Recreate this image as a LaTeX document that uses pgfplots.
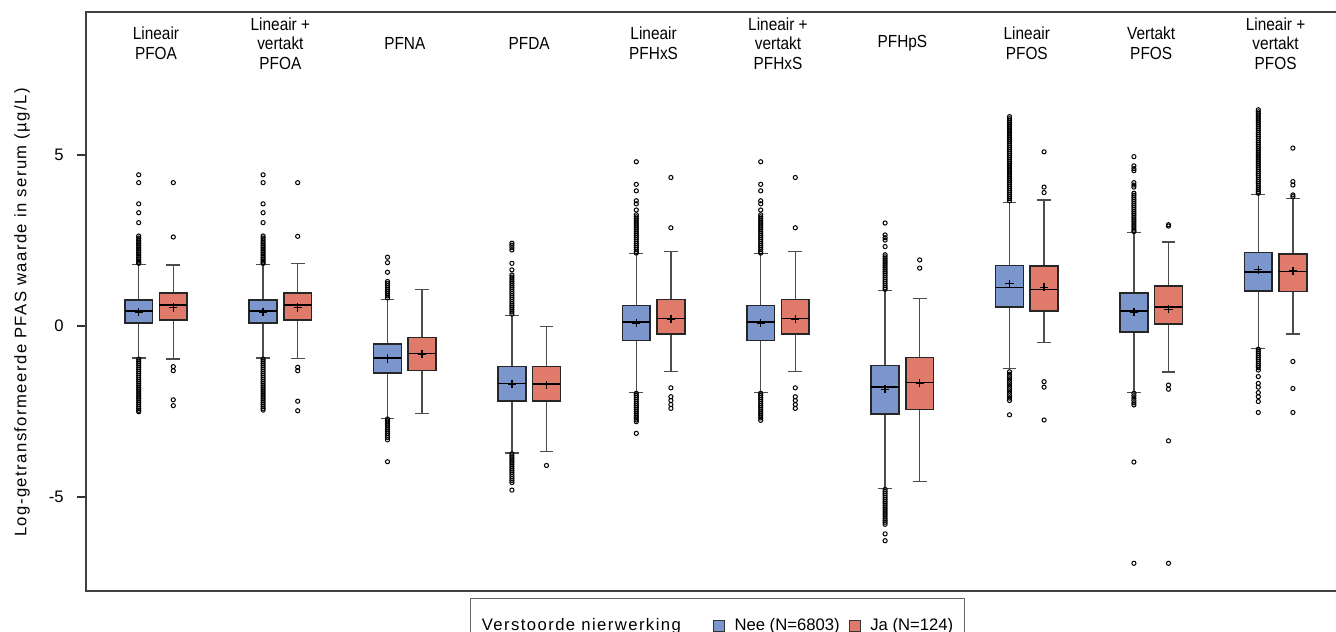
\documentclass[border=0pt]{standalone}
\usepackage{fontspec}
\setmainfont{Liberation Sans}
\newfontfamily\grpfont[FakeStretch=0.88]{Liberation Sans}
\newfontfamily\spacedfont[LetterSpace=8.6]{Liberation Sans}
\usepackage{pgfplots}
\pgfplotsset{compat=1.18}
\usepgfplotslibrary{statistics}

\definecolor{nee}{HTML}{7B96CC}
\definecolor{ja}{HTML}{E07B6C}

\tikzset{grp/.style={align=center, inner sep=0pt, font=\grpfont\fontsize{10.5}{11.7}\selectfont}}

% one prepared box: position, colour, lower whisker, Q1, median, Q3, upper whisker, outliers
\newcommand{\pfasbox}[8]{%
  \addplot[forget plot,
    boxplot prepared={draw direction=y, draw position=#1, lower whisker=#3, lower quartile=#4,
      median=#5, upper quartile=#6, upper whisker=#7},
    fill=#2, draw=black!85, line width=0.9pt,
    mark=o, mark size=1.25pt,
    mark options={solid, draw=black, fill=none, line width=0.6pt}]
    coordinates {#8};}

\begin{document}
\begin{tikzpicture}
\begin{axis}[
  at={(0pt,0pt)}, anchor=south west,
  scale only axis, width=752.57pt, height=347.4pt,
  xmin=0.4373, xmax=10.52, ymin=-7.75, ymax=9.18,
  xtick=\empty, ytick={-5,0,5}, ytick pos=left, tick align=outside,
  major tick length=5.4pt,
  every tick/.style={black!80, line width=0.8pt},
  axis line style={black!75, line width=0.9pt},
  tick label style={font=\fontsize{10}{12}\selectfont},
  yticklabel style={xshift=-4.5pt},
  /pgf/number format/assume math mode=true,
  ylabel={\spacedfont Log-getransformeerde PFAS waarde in serum (µg/L)},
  ylabel style={at={(axis description cs:-0.0510,0.481)}, anchor=center,
    font=\fontsize{10}{12}\selectfont},
  boxplot/draw direction=y,
  boxplot/box extend=0.223, boxplot/whisker extend=0.11,
  boxplot/every whisker/.style={draw=black!70, line width=0.85pt, fill=none},
  boxplot/every median/.style={draw=black, line width=0.9pt},
  legend columns=3,
  legend cell align=left,
  legend style={at={(axis description cs:0.3061,0)}, anchor=north west,
    yshift=-4.2pt, draw=black!60, line width=0.6pt,
    inner xsep=4.8pt, inner ysep=10.2pt,
    font=\fontsize{10}{12}\selectfont,
    /tikz/every odd column/.style={column sep=0pt}},
]

% Lineair PFOA
\pfasbox{0.861}{nee}{-0.94}{0.09}{0.44}{0.76}{1.79}{(0,4.42) (0,4.19) (0,3.57) (0,3.31) (0,3.02) (0,2.63) (0,2.57) (0,2.51) (0,2.45) (0,2.40) (0,2.35) (0,2.30) (0,2.25) (0,2.20) (0,2.15) (0,2.10) (0,2.05) (0,2.00) (0,1.95) (0,1.90) (0,1.86) (0,1.83)
 (0,-0.97) (0,-1.03) (0,-1.09) (0,-1.15) (0,-1.21) (0,-1.27) (0,-1.33) (0,-1.39) (0,-1.45) (0,-1.51) (0,-1.57) (0,-1.63) (0,-1.69) (0,-1.75) (0,-1.81) (0,-1.87) (0,-1.93) (0,-1.99) (0,-2.05) (0,-2.11) (0,-2.17) (0,-2.23) (0,-2.29) (0,-2.35) (0,-2.41) (0,-2.47) (0,-2.51)}
\pfasbox{1.139}{ja}{-0.97}{0.18}{0.61}{0.96}{1.78}{(0,4.19) (0,2.60) (0,-1.19) (0,-1.31) (0,-2.16) (0,-2.33)}

% Lineair + vertakt PFOA
\pfasbox{1.861}{nee}{-0.94}{0.09}{0.44}{0.76}{1.80}{(0,4.42) (0,4.19) (0,3.57) (0,3.31) (0,3.02) (0,2.63) (0,2.57) (0,2.51) (0,2.45) (0,2.40) (0,2.35) (0,2.30) (0,2.25) (0,2.20) (0,2.15) (0,2.10) (0,2.05) (0,2.00) (0,1.95) (0,1.90) (0,1.86) (0,1.83)
 (0,-0.97) (0,-1.03) (0,-1.09) (0,-1.15) (0,-1.21) (0,-1.27) (0,-1.33) (0,-1.39) (0,-1.45) (0,-1.51) (0,-1.57) (0,-1.63) (0,-1.69) (0,-1.75) (0,-1.81) (0,-1.87) (0,-1.93) (0,-1.99) (0,-2.05) (0,-2.11) (0,-2.17) (0,-2.23) (0,-2.29) (0,-2.35) (0,-2.41) (0,-2.46)}
\pfasbox{2.139}{ja}{-0.96}{0.18}{0.61}{0.96}{1.82}{(0,4.19) (0,2.62) (0,-1.21) (0,-1.31) (0,-2.20) (0,-2.48)}

% PFNA
\pfasbox{2.861}{nee}{-2.70}{-1.38}{-0.94}{-0.53}{0.78}{(0,2.01) (0,1.85) (0,1.57) (0,1.30) (0,1.24) (0,1.18) (0,1.12) (0,1.06) (0,1.00) (0,0.94) (0,0.88) (0,0.82)
 (0,-2.72) (0,-2.78) (0,-2.84) (0,-2.90) (0,-2.96) (0,-3.02) (0,-3.08) (0,-3.14) (0,-3.20) (0,-3.26) (0,-3.33) (0,-3.97)}
\pfasbox{3.139}{ja}{-2.56}{-1.31}{-0.80}{-0.34}{1.07}{}

% PFDA
\pfasbox{3.861}{nee}{-3.72}{-2.20}{-1.68}{-1.19}{0.31}{(0,2.42) (0,2.36) (0,2.29) (0,2.22) (0,1.83) (0,1.64) (0,1.49) (0,1.43) (0,1.37) (0,1.31) (0,1.25) (0,1.19) (0,1.13) (0,1.07) (0,1.01) (0,0.95) (0,0.89) (0,0.83) (0,0.77) (0,0.71) (0,0.65) (0,0.59) (0,0.53) (0,0.47) (0,0.41) (0,0.35)
 (0,-3.74) (0,-3.80) (0,-3.86) (0,-3.92) (0,-3.98) (0,-4.04) (0,-4.10) (0,-4.16) (0,-4.22) (0,-4.28) (0,-4.34) (0,-4.40) (0,-4.46) (0,-4.52) (0,-4.58) (0,-4.80)}
\pfasbox{4.139}{ja}{-3.67}{-2.20}{-1.70}{-1.19}{-0.02}{(0,-4.08)}

% Lineair PFHxS
\pfasbox{4.861}{nee}{-1.95}{-0.43}{0.11}{0.60}{2.11}{(0,4.80) (0,4.14) (0,3.95) (0,3.66) (0,3.57) (0,3.39) (0,3.25) (0,3.19) (0,3.13) (0,3.07) (0,3.01) (0,2.95) (0,2.89) (0,2.83) (0,2.77) (0,2.71) (0,2.65) (0,2.59) (0,2.53) (0,2.47) (0,2.41) (0,2.35) (0,2.29) (0,2.23) (0,2.17) (0,2.13)
 (0,-1.97) (0,-2.03) (0,-2.09) (0,-2.15) (0,-2.21) (0,-2.27) (0,-2.33) (0,-2.39) (0,-2.45) (0,-2.51) (0,-2.57) (0,-2.63) (0,-2.69) (0,-2.75) (0,-2.80) (0,-3.14)}
\pfasbox{5.139}{ja}{-1.34}{-0.24}{0.22}{0.77}{2.18}{(0,4.34) (0,2.87) (0,-1.81) (0,-2.07) (0,-2.18) (0,-2.30) (0,-2.41)}

% Lineair + vertakt PFHxS
\pfasbox{5.861}{nee}{-1.95}{-0.43}{0.11}{0.60}{2.11}{(0,4.80) (0,4.14) (0,3.95) (0,3.66) (0,3.57) (0,3.39) (0,3.25) (0,3.19) (0,3.13) (0,3.07) (0,3.01) (0,2.95) (0,2.89) (0,2.83) (0,2.77) (0,2.71) (0,2.65) (0,2.59) (0,2.53) (0,2.47) (0,2.41) (0,2.35) (0,2.29) (0,2.23) (0,2.17) (0,2.13)
 (0,-1.97) (0,-2.03) (0,-2.09) (0,-2.15) (0,-2.21) (0,-2.27) (0,-2.33) (0,-2.39) (0,-2.45) (0,-2.51) (0,-2.57) (0,-2.63) (0,-2.69) (0,-2.76)}
\pfasbox{6.139}{ja}{-1.34}{-0.24}{0.22}{0.77}{2.18}{(0,4.34) (0,2.87) (0,-1.81) (0,-2.07) (0,-2.18) (0,-2.30) (0,-2.41)}

% PFHpS
\pfasbox{6.861}{nee}{-4.76}{-2.58}{-1.79}{-1.15}{1.03}{(0,3.01) (0,2.66) (0,2.58) (0,2.51) (0,2.32) (0,2.08) (0,2.02) (0,1.96) (0,1.90) (0,1.84) (0,1.78) (0,1.72) (0,1.66) (0,1.60) (0,1.54) (0,1.48) (0,1.42) (0,1.36) (0,1.30) (0,1.24) (0,1.18) (0,1.12) (0,1.07)
 (0,-4.78) (0,-4.84) (0,-4.90) (0,-4.96) (0,-5.02) (0,-5.08) (0,-5.14) (0,-5.20) (0,-5.26) (0,-5.32) (0,-5.38) (0,-5.44) (0,-5.50) (0,-5.56) (0,-5.62) (0,-5.68) (0,-5.74) (0,-5.80) (0,-6.08) (0,-6.28)}
\pfasbox{7.139}{ja}{-4.55}{-2.44}{-1.65}{-0.92}{0.81}{(0,1.93) (0,1.69)}

% Lineair PFOS
\pfasbox{7.861}{nee}{-1.25}{0.56}{1.12}{1.77}{3.61}{(0,6.12) (0,6.06) (0,6.00) (0,5.94) (0,5.88) (0,5.82) (0,5.76) (0,5.70) (0,5.64) (0,5.58) (0,5.52) (0,5.46) (0,5.40) (0,5.34) (0,5.28) (0,5.22) (0,5.16) (0,5.10) (0,5.04) (0,4.98) (0,4.92) (0,4.86) (0,4.80) (0,4.74) (0,4.68) (0,4.62) (0,4.56) (0,4.50) (0,4.44) (0,4.38) (0,4.32) (0,4.26) (0,4.20) (0,4.14) (0,4.08) (0,4.02) (0,3.96) (0,3.90) (0,3.84) (0,3.78) (0,3.72) (0,3.66)
 (0,-1.34) (0,-1.41) (0,-1.48) (0,-1.55) (0,-1.62) (0,-1.69) (0,-1.76) (0,-1.83) (0,-1.90) (0,-1.97) (0,-2.04) (0,-2.11) (0,-2.18) (0,-2.60)}
\pfasbox{8.139}{ja}{-0.49}{0.43}{1.06}{1.75}{3.68}{(0,5.09) (0,4.06) (0,3.90) (0,-1.63) (0,-1.79) (0,-2.75)}

% Vertakt PFOS
\pfasbox{8.861}{nee}{-1.95}{-0.18}{0.43}{0.97}{2.74}{(0,4.95) (0,4.68) (0,4.60) (0,4.54) (0,4.19) (0,4.12) (0,4.06) (0,3.88) (0,3.82) (0,3.76) (0,3.70) (0,3.64) (0,3.58) (0,3.52) (0,3.46) (0,3.40) (0,3.34) (0,3.28) (0,3.22) (0,3.16) (0,3.10) (0,3.04) (0,2.98) (0,2.92) (0,2.86) (0,2.80) (0,2.76)
 (0,-1.97) (0,-2.04) (0,-2.11) (0,-2.18) (0,-2.25) (0,-2.31) (0,-3.98) (0,-6.94)}
\pfasbox{9.139}{ja}{-1.35}{0.06}{0.56}{1.17}{2.45}{(0,2.92) (0,2.96) (0,-1.73) (0,-1.85) (0,-3.36) (0,-6.94)}

% Lineair + vertakt PFOS
\pfasbox{9.861}{nee}{-0.66}{1.02}{1.57}{2.15}{3.85}{(0,6.32) (0,6.26) (0,6.20) (0,6.14) (0,6.08) (0,6.02) (0,5.96) (0,5.90) (0,5.84) (0,5.78) (0,5.72) (0,5.66) (0,5.60) (0,5.54) (0,5.48) (0,5.42) (0,5.36) (0,5.30) (0,5.24) (0,5.18) (0,5.12) (0,5.06) (0,5.00) (0,4.94) (0,4.88) (0,4.82) (0,4.76) (0,4.70) (0,4.64) (0,4.58) (0,4.52) (0,4.46) (0,4.40) (0,4.34) (0,4.28) (0,4.22) (0,4.16) (0,4.10) (0,4.04) (0,3.98) (0,3.92) (0,3.88)
 (0,-0.68) (0,-0.74) (0,-0.80) (0,-0.86) (0,-0.92) (0,-0.98) (0,-1.04) (0,-1.10) (0,-1.16) (0,-1.22) (0,-1.29) (0,-1.48) (0,-1.68) (0,-1.79) (0,-1.95) (0,-2.07) (0,-2.21) (0,-2.53)}
\pfasbox{10.139}{ja}{-0.23}{1.00}{1.59}{2.11}{3.73}{(0,5.20) (0,4.22) (0,4.12) (0,3.83) (0,3.78) (0,-1.04) (0,-1.83) (0,-2.53)}

% means
\addplot[forget plot, only marks, mark=+, mark size=2.5pt, mark options={black, line width=0.75pt}]
  coordinates {(0.861,0.41) (1.861,0.41) (2.861,-0.95) (3.861,-1.70) (4.861,0.08)
               (5.861,0.08) (6.861,-1.85) (7.861,1.23) (8.861,0.40) (9.861,1.64)};
\addplot[forget plot, only marks, mark=+, mark size=2.5pt, mark options={black, line width=0.75pt}]
  coordinates {(1.139,0.54) (2.139,0.54) (3.139,-0.83) (4.139,-1.72) (5.139,0.20)
               (6.139,0.20) (7.139,-1.67) (8.139,1.13) (9.139,0.49) (10.139,1.61)};

% legend
\addlegendimage{empty legend}
\addlegendentry{\spacedfont Verstoorde nierwerking\hspace{17.4pt}\null}
\addlegendimage{legend image code/.code={\draw[draw=black!80, line width=0.6pt, fill=nee] (0pt,-3.3pt) rectangle (6.6pt,3.3pt);}}
\addlegendentry{\hspace{3.6pt}Nee (N=6803)\hspace{3.6pt}\null}
\addlegendimage{legend image code/.code={\draw[draw=black!80, line width=0.6pt, fill=ja] (0pt,-3.3pt) rectangle (6.6pt,3.3pt);}}
\addlegendentry{\hspace{3.6pt}Ja (N=124)}

% compound names above the boxes
\node[grp] at (axis cs:1,8.26) {Lineair\\PFOA};
\node[grp] at (axis cs:2,8.26) {Lineair +\\vertakt\\PFOA};
\node[grp] at (axis cs:3,8.26) {PFNA};
\node[grp] at (axis cs:4,8.26) {PFDA};
\node[grp] at (axis cs:5,8.26) {Lineair\\PFHxS};
\node[grp] at (axis cs:6,8.26) {Lineair +\\vertakt\\PFHxS};
\node[grp] at (axis cs:7,8.26) {PFHpS};
\node[grp] at (axis cs:8,8.26) {Lineair\\PFOS};
\node[grp] at (axis cs:9,8.26) {Vertakt\\PFOS};
\node[grp] at (axis cs:10,8.26) {Lineair +\\vertakt\\PFOS};
\end{axis}
\pgfresetboundingbox
\path[use as bounding box] (-51.6pt,-24.6pt) rectangle (750pt,354.6pt);
\end{tikzpicture}
\end{document}
